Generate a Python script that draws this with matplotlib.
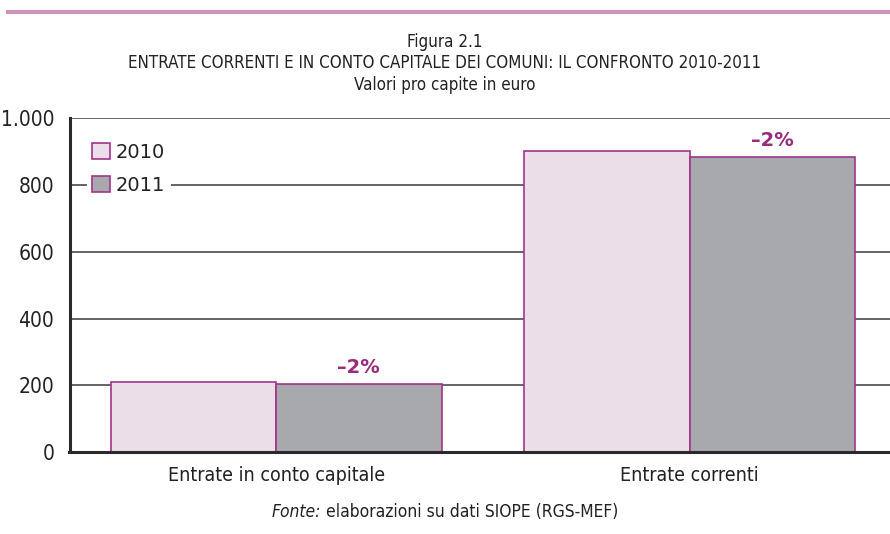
import matplotlib
matplotlib.use("Agg")
import matplotlib.pyplot as plt
from matplotlib import font_manager
from matplotlib.patches import Patch
from matplotlib.offsetbox import TextArea, HPacker, AnchoredOffsetbox
import numpy as np

categories = ["Entrate in conto capitale", "Entrate correnti"]
years = ["2010", "2011"]
values_2010 = [210, 902]
values_2011 = [205, 885]
changes = ["\u20132%", "\u20132%"]
yticks = [0, 200, 400, 600, 800, 1000]
ytick_labels = ["0", "200", "400", "600", "800", "1.000"]

names = {f.name for f in font_manager.fontManager.ttflist}
if "Liberation Sans Narrow" in names:
    fam = ["Liberation Sans Narrow", "DejaVu Sans"]
    stretch = "normal"
else:
    fam = ["DejaVu Sans"]
    stretch = "condensed"
plt.rcParams["font.family"] = fam

c2010 = "#ecdee8"
c2011 = "#a8a9ac"
edge = "#a0358a"
accent = "#9b2a7b"
grid = "#3a3a3a"
txt = "#222222"

fig = plt.figure(figsize=(8.9, 5.34), dpi=100)
ax = fig.add_axes([69.5 / 890, 1 - 452 / 534, 1 - 69.5 / 890, (452 - 118.3) / 534])

x = np.arange(len(categories))
w = 0.4
ax.bar(x - w / 2, values_2010, w, color=c2010, edgecolor=edge, linewidth=1.2, zorder=3)
ax.bar(x + w / 2, values_2011, w, color=c2011, edgecolor=edge, linewidth=1.2, zorder=3)

for xi, v, t in zip(x, values_2011, changes):
    ax.annotate(t, (xi + w / 2, v), xytext=(0, 5), textcoords="offset points",
                ha="center", va="bottom", color=accent, fontsize=14, fontweight="bold")

ax.set_xlim(-0.5, 1.485)
ax.set_ylim(0, 1000)
ax.set_yticks(yticks)
ax.set_yticklabels(ytick_labels)
ax.set_xticks(x)
ax.set_xticklabels(categories)
ax.tick_params(axis="y", length=0, pad=11, labelsize=15, colors=txt)
ax.tick_params(axis="x", length=0, pad=10, labelsize=14, colors=txt)
for lab in ax.get_xticklabels() + ax.get_yticklabels():
    lab.set_stretch(stretch)

ax.yaxis.grid(True, color=grid, linewidth=1.1, zorder=0)
ax.set_axisbelow(True)
for s in ["top", "right"]:
    ax.spines[s].set_visible(False)
for s in ["left", "bottom"]:
    ax.spines[s].set_linewidth(2.2)
    ax.spines[s].set_color("#2a2a2a")
    ax.spines[s].set_zorder(5)

handles = [Patch(facecolor=c2010, edgecolor=edge, linewidth=1.2, label=years[0]),
           Patch(facecolor=c2011, edgecolor=edge, linewidth=1.2, label=years[1])]
leg = ax.legend(handles=handles, loc="upper left", bbox_to_anchor=(0.009, 0.973),
                frameon=True, facecolor="white", edgecolor="none", framealpha=1,
                fontsize=14, handlelength=0.9, handleheight=0.9, handletextpad=0.3,
                labelspacing=0.72, borderpad=0.3, fancybox=False)
leg.set_zorder(4)
for t in leg.get_texts():
    t.set_color(txt)

# top pink rule
fig.add_artist(plt.Line2D([8 / 890, 1], [1 - 12 / 534, 1 - 12 / 534], color="#c996b8",
                          linewidth=3, transform=fig.transFigure))

fig.text(0.5, 1 - 42 / 534, "Figura 2.1", ha="center", va="center", fontsize=12.2,
         color=txt, stretch=stretch)
fig.text(0.5, 1 - 63 / 534, "ENTRATE CORRENTI E IN CONTO CAPITALE DEI COMUNI: IL CONFRONTO 2010-2011",
         ha="center", va="center", fontsize=12.2, color=txt, stretch=stretch)
fig.text(0.5, 1 - 85 / 534, "Valori pro capite in euro", ha="center", va="center",
         fontsize=12.2, color=txt, stretch=stretch)

ta1 = TextArea("Fonte:", textprops=dict(fontsize=12.5, style="italic", color=txt, stretch=stretch))
ta2 = TextArea(" elaborazioni su dati SIOPE (RGS-MEF)", textprops=dict(fontsize=12.5, color=txt, stretch=stretch))
box = HPacker(children=[ta1, ta2], align="baseline", pad=0, sep=0)
ab = AnchoredOffsetbox(loc="center", child=box, frameon=False,
                       bbox_to_anchor=(0.5, 1 - 512 / 534), bbox_transform=fig.transFigure,
                       borderpad=0, pad=0)
fig.add_artist(ab)

fig.savefig("out.png", dpi=100)
